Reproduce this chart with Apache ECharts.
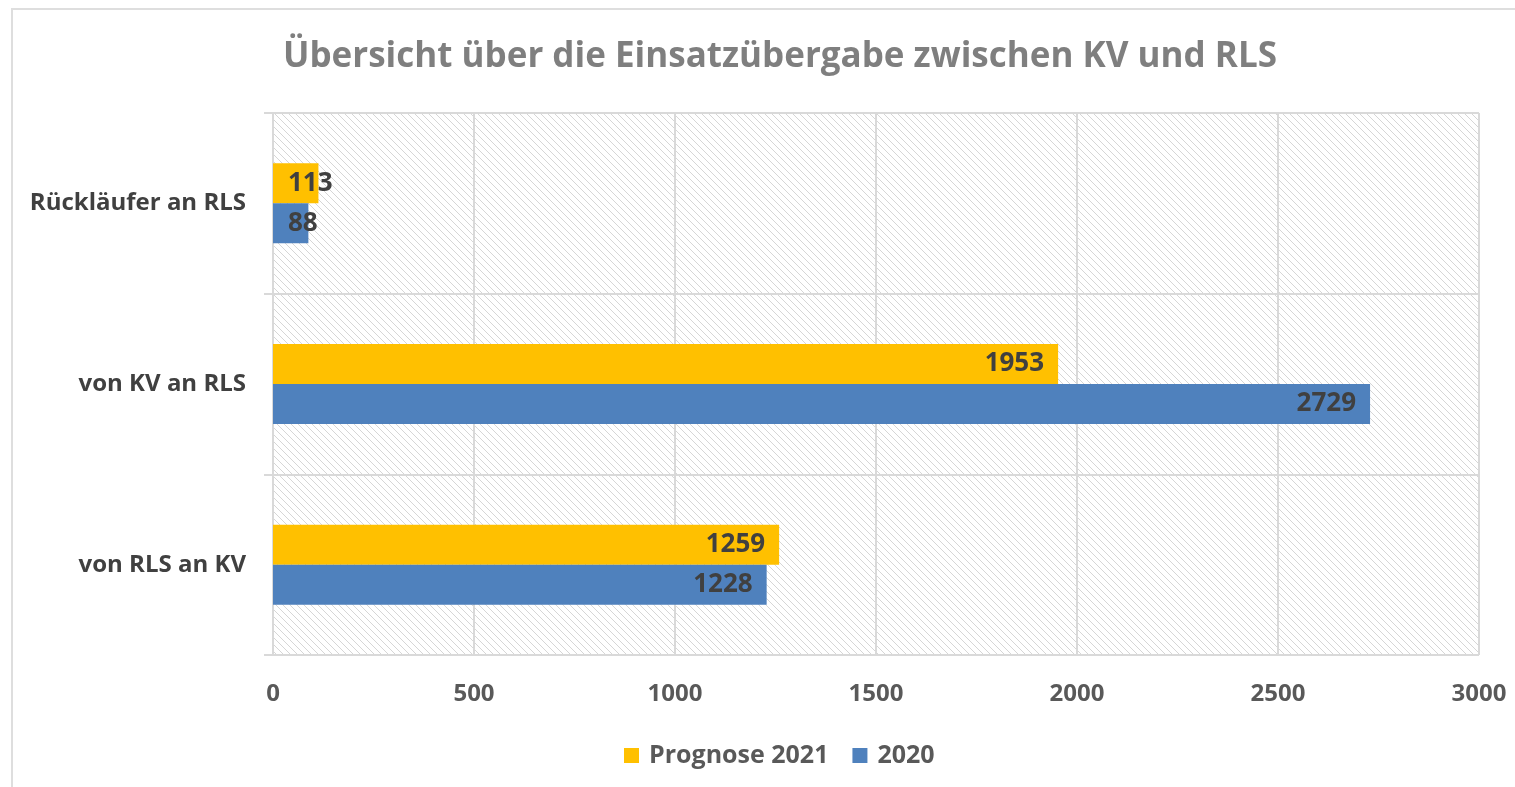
<!DOCTYPE html>
<html>
<head>
<meta charset="utf-8">
<script src="https://cdn.jsdelivr.net/npm/echarts@6/dist/echarts.min.js"></script>
<style>
html,body{margin:0;padding:0;background:#fff;}
#chart{width:1515px;height:787px;}
</style>
</head>
<body>
<div id="chart"></div>
<script>
const titleText = 'Übersicht über die Einsatzübergabe zwischen KV und RLS';
const categories = ['von RLS an KV', 'von KV an RLS', 'Rückläufer an RLS'];
const valuesPrognose2021 = [1259, 1953, 113];
const values2020 = [1228, 2729, 88];
const seriesNames = ['Prognose 2021', '2020'];
const axisMax = 3000;
const axisStep = 500;

const FONT = '"Open Sans", "DejaVu Sans", sans-serif';

// hatch pattern for plot background
const pc = document.createElement('canvas');
pc.width = 7; pc.height = 7;
const px = pc.getContext('2d');
px.fillStyle = '#ffffff';
px.fillRect(0, 0, 7, 7);
px.strokeStyle = '#d6d6d6';
px.lineWidth = 1;
px.beginPath();
px.moveTo(-1, -1); px.lineTo(8, 8);
px.moveTo(-8, -1); px.lineTo(1, 8);
px.moveTo(6, -1); px.lineTo(15, 8);
px.stroke();

function buildData(vals) {
  return vals.map(v => {
    const short = v < 300;
    return {
      value: v,
      label: short ? { position: 'insideLeft', distance: 15 } : { position: 'insideRight', distance: 14 }
    };
  });
}

const chart = echarts.init(document.getElementById('chart'), null, { renderer: 'canvas' });
chart.setOption({
  backgroundColor: '#ffffff',
  animation: false,
  title: {
    text: titleText,
    left: 775,
    textAlign: 'center',
    top: 35,
    textStyle: { fontFamily: FONT, fontSize: 35, fontWeight: 'bold', color: '#7f7f7f' }
  },
  graphic: [{
    type: 'rect',
    shape: { x: 12, y: 9, width: 1520, height: 800 },
    style: { fill: 'none', stroke: '#dedede', lineWidth: 2 },
    silent: true
  }],
  legend: {
    data: seriesNames,
    left: 619,
    top: 738,
    itemWidth: 15,
    itemHeight: 15,
    itemGap: 24,
    icon: 'rect',
    textStyle: { fontFamily: FONT, fontSize: 25, fontWeight: 'bold', color: '#595959', padding: [0, 0, 0, 5] }
  },
  grid: {
    left: 273, right: 36, top: 113, bottom: 132,
    show: true,
    borderWidth: 0,
    backgroundColor: { image: pc, repeat: 'repeat' }
  },
  xAxis: {
    type: 'value',
    min: 0, max: axisMax, interval: axisStep,
    axisLine: { show: false },
    axisTick: { show: false },
    splitLine: { show: true, lineStyle: { color: '#d9d9d9', width: 2 } },
    axisLabel: { fontFamily: FONT, fontSize: 24, fontWeight: 'bold', color: '#595959', margin: 27, formatter: v => String(v) }
  },
  yAxis: {
    type: 'category',
    data: categories,
    axisLine: { show: false },
    axisTick: { show: true, length: 9, lineStyle: { color: '#d9d9d9', width: 2 } },
    splitLine: { show: true, lineStyle: { color: '#d9d9d9', width: 2 } },
    axisLabel: { fontFamily: FONT, fontSize: 24, fontWeight: 'bold', color: '#404040', margin: 27 }
  },
  series: [
    {
      name: seriesNames[0], type: 'bar',
      data: buildData(valuesPrognose2021),
      barWidth: 40, barGap: '0%',
      itemStyle: { color: '#FFC000' },
      label: { show: true, fontFamily: FONT, fontSize: 26, fontWeight: 'bold', color: '#404040' }
    },
    {
      name: seriesNames[1], type: 'bar',
      data: buildData(values2020),
      barWidth: 40, barGap: '0%',
      itemStyle: { color: '#4F81BD' },
      label: { show: true, fontFamily: FONT, fontSize: 26, fontWeight: 'bold', color: '#404040' }
    }
  ]
});
</script>
</body>
</html>
